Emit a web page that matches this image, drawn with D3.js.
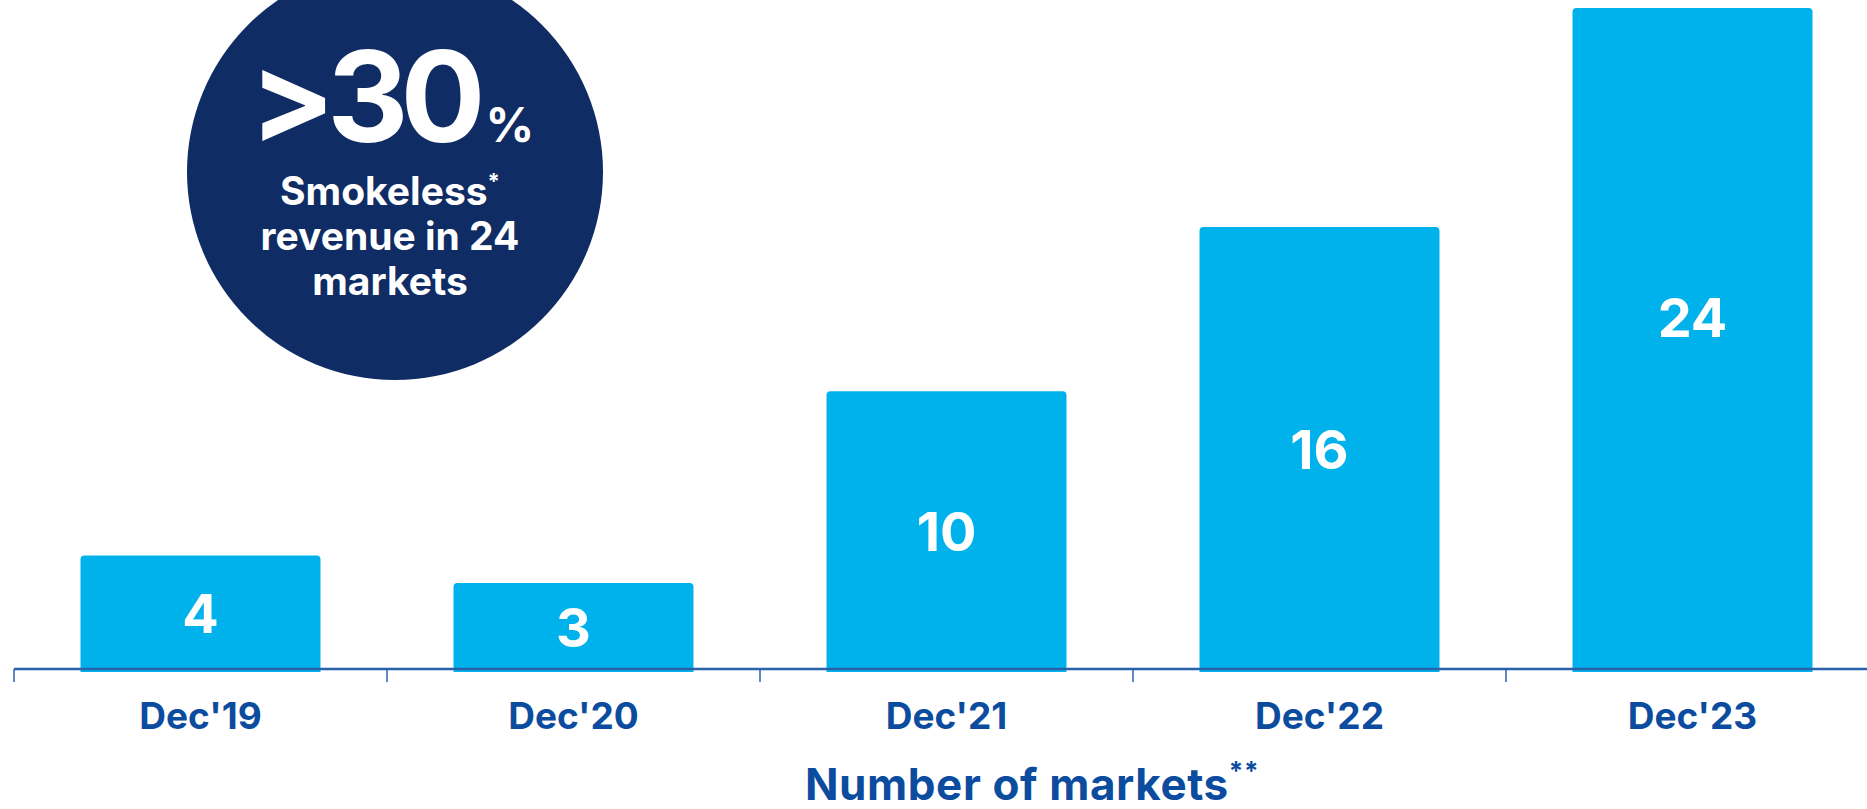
<!DOCTYPE html>
<html>
<head>
<meta charset="utf-8">
<script src="https://cdn.jsdelivr.net/npm/d3@7.9.0/dist/d3.min.js"></script>
<style>
  html, body { margin: 0; padding: 0; background: #fff; }
  svg { display: block; font-family: Inter, "Noto Sans", sans-serif; font-weight: 700; }
</style>
</head>
<body>
<svg id="chart" width="1867" height="809"></svg>
<script>
const categories = ["Dec'19", "Dec'20", "Dec'21", "Dec'22", "Dec'23"];
const markets = [4, 3, 10, 16, 24];
const bubbleLines = ["Smokeless", "revenue in 24", "markets"];
const axisTitle = "Number of markets";

const barColor = "#00b2eb";
const navy = "#102c64";
const blue = "#0b4c9f";

const svg = d3.select("#chart");
const baseY = 669;

let x = d3.scaleBand()
    .domain(categories)
    .range([14, 14 + 5 * 373])
    .paddingInner(0.3566)
    .paddingOuter(0.3566 / 2);

let y = d3.scaleLinear().domain([0, 24]).range([665, 8]);

// bubble
const bubble = svg.append("g");
bubble.append("circle")
    .attr("cx", 395).attr("cy", 172).attr("r", 208)
    .attr("fill", navy);

const big = bubble.append("text")
    .attr("x", 392).attr("y", 142)
    .attr("text-anchor", "middle")
    .attr("fill", "#fff");
big.append("tspan").attr("font-size", 126).attr("letter-spacing", -8).text(">30");
big.append("tspan").attr("font-size", 48).attr("dx", 8).text("%");

bubbleLines.forEach((line, i) => {
    const t = bubble.append("text")
        .attr("x", 390).attr("y", 205 + i * 45)
        .attr("text-anchor", "middle")
        .attr("fill", "#fff")
        .attr("font-size", 39)
        .text(line);
    if (i === 0) {
        t.append("tspan").attr("font-size", 22).attr("dy", -16).text("*");
    }
});

// bars
const bars = svg.append("g");
categories.forEach((c, i) => {
    const top = y(markets[i]);
    const bottom = 672;
    const w = x.bandwidth(), r = 4;
    const x0 = x(c);
    const path = `M${x0},${bottom} V${top + r} Q${x0},${top} ${x0 + r},${top} H${x0 + w - r} Q${x0 + w},${top} ${x0 + w},${top + r} V${bottom} Z`;
    bars.append("path")
        .attr("d", path)
        .attr("fill", barColor);
    bars.append("text")
        .attr("x", x0 + w / 2)
        .attr("y", Math.min((top + bottom) / 2, top + 310))
        .attr("dy", "0.36em")
        .attr("text-anchor", "middle")
        .attr("fill", "#fff")
        .attr("font-size", 54)
        .text(markets[i]);
});

// axis
const axis = svg.append("g").attr("transform", `translate(0,${baseY})`);
axis.call(d3.axisBottom(x).tickSize(0).tickPadding(34))
    .call(g => g.select(".domain").remove());
axis.selectAll(".tick text")
    .attr("font-family", "Inter, 'Noto Sans', sans-serif")
    .attr("font-weight", 700)
    .attr("font-size", 37)
    .attr("fill", blue);

axis.append("line")
    .attr("x1", 14).attr("x2", 1867)
    .attr("stroke", "#2a62aa").attr("stroke-width", 2.5);

const gap = (x.step() - x.bandwidth()) / 2;
categories.forEach(c => {
    axis.append("line")
        .attr("x1", x(c) - gap).attr("x2", x(c) - gap)
        .attr("y1", 0).attr("y2", 13)
        .attr("stroke", "#2a62aa").attr("stroke-width", 1.5);
});

const title = svg.append("text")
    .attr("x", 1032).attr("y", 800)
    .attr("text-anchor", "middle")
    .attr("fill", blue)
    .attr("font-size", 44)
    .attr("letter-spacing", 0.6)
    .text(axisTitle);
title.append("tspan").attr("font-size", 26).attr("dy", -20).text("**");
</script>
</body>
</html>
